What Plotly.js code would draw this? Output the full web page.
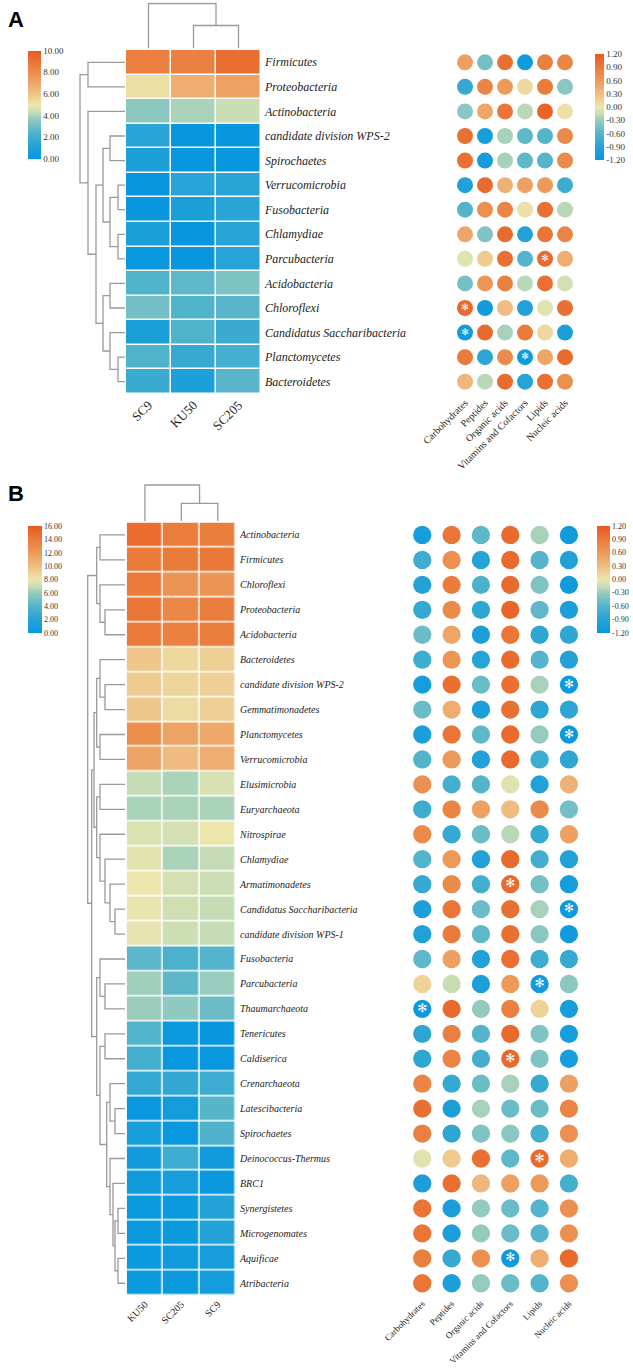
<!DOCTYPE html>
<html><head><meta charset="utf-8">
<script src="https://cdn.plot.ly/plotly-3.0.1.min.js"></script>
<style>html,body{margin:0;padding:0;background:#fff}#chart{width:633px;height:1369px}</style>
</head><body><div id="chart"></div>
<script>
// ---------------- DATA: Panel A ----------------
const samplesA = ['SC9', 'KU50', 'SC205'];
const phylaA = ['Firmicutes','Proteobacteria','Actinobacteria','candidate division WPS-2','Spirochaetes',
  'Verrucomicrobia','Fusobacteria','Chlamydiae','Parcubacteria','Acidobacteria','Chloroflexi',
  'Candidatus Saccharibacteria','Planctomycetes','Bacteroidetes'];
// log abundance per phylum (SC9, KU50, SC205)
const abundanceA = [
  [8.6, 8.5, 9.2],[5.2, 6.8, 7.2],[3.6, 4.0, 4.4],[1.3, 0.05, 0.05],[0.9, 0.05, 0.05],
  [0.05, 1.3, 1.35],[0.05, 0.8, 1.3],[0.8, 0.05, 1.3],[0.1, 0.05, 1.2],[2.4, 2.7, 3.3],
  [3.1, 2.4, 2.6],[0.8, 2.4, 1.8],[2.4, 1.7, 2.1],[1.8, 0.9, 2.6]
];
const functionsA = ['Carbohydrates','Peptides','Organic acids','Vitamins and Cofactors','Lipids','Nucleic acids'];
// correlation (Carb, Pept, Org, Vit, Lip, Nucl)
const corrA = [
  [0.55,-0.45,1.0,-1.1,0.85,0.8],
  [-0.8,0.8,0.6,0.1,0.9,-0.35],
  [-0.35,0.5,0.95,-0.2,1.1,0.05],
  [1.0,-1.05,-0.25,-0.55,-0.6,0.75],
  [1.0,-1.05,-0.25,-0.55,-0.6,0.75],
  [-0.95,1.05,0.4,0.55,0.6,-0.75],
  [-0.6,0.7,0.8,0.05,1.0,-0.2],
  [0.5,-0.4,1.05,-0.95,0.95,0.8],
  [-0.05,0.2,1.0,-0.6,1.05,0.45],
  [-0.45,0.65,0.85,-0.2,1.0,-0.1],
  [1.05,-1.1,0.3,-0.95,-0.05,1.0],
  [-1.1,1.05,-0.25,0.9,0.1,-1.0],
  [0.9,-0.85,0.75,-1.1,0.5,1.05],
  [0.35,-0.2,1.05,-0.9,1.0,0.7]
];
const signifA = [[8,4],[10,0],[11,0],[12,3]]; // [phylum, function]
// clustering trees: [left, right, distance]
const rowTreeA = [[0,1,3.7],[2,[[[3,4,1.5],[[5,6,0.7],[7,8,0.7],1.5],2.2],[[9,10,1.5],[11,[12,13,0.7],1.5],2.2],2.9],3.7],4.5];
const colTreeA = [0,[1,2,2.3],4.5];

// ---------------- DATA: Panel B ----------------
const samplesB = ['KU50', 'SC205', 'SC9'];
const phylaB = ['Actinobacteria','Firmicutes','Chloroflexi','Proteobacteria','Acidobacteria','Bacteroidetes',
  'candidate division WPS-2','Gemmatimonadetes','Planctomycetes','Verrucomicrobia','Elusimicrobia','Euryarchaeota',
  'Nitrospirae','Chlamydiae','Armatimonadetes','Candidatus Saccharibacteria','candidate division WPS-1',
  'Fusobacteria','Parcubacteria','Thaumarchaeota','Tenericutes','Caldiserica','Crenarchaeota','Latescibacteria',
  'Spirochaetes','Deinococcus-Thermus','BRC1','Synergistetes','Microgenomates','Aquificae','Atribacteria'];
const abundanceB = [
  [14.9,13.9,13.8],[14.0,14.0,14.1],[14.0,12.4,12.4],[14.3,13.2,13.8],[14.0,13.6,13.8],
  [9.6,8.7,9.1],[9.3,8.9,9.1],[9.5,8.5,9.1],[12.8,11.5,11.2],[11.5,10.1,10.9],
  [6.9,6.4,7.4],[6.4,6.4,6.4],[7.5,7.3,8.0],[7.7,6.4,6.9],[8.0,7.3,7.1],
  [7.9,7.2,6.9],[7.8,7.1,6.9],[4.2,3.6,4.0],[6.2,4.3,6.1],[6.1,5.8,4.7],
  [4.0,0.3,0.05],[3.4,0.1,0.1],[2.6,2.5,3.0],[0.1,0.8,4.1],[1.1,0.1,3.8],
  [0.7,3.0,0.7],[0.7,1.0,0.2],[0.3,0.3,1.8],[0.3,0.3,1.8],[0.3,0.7,1.0],[0.3,0.3,0.8]
];
const functionsB = ['Carbohydrates','Peptides','Organic acids','Vitamins and Cofactors','Lipids','Nucleic acids'];
const corrB = [
  [-1.05,0.95,-0.55,1.05,-0.25,-1.1],
  [-0.75,0.7,-0.9,1.05,-0.6,-0.95],
  [-0.95,0.9,-0.65,1.05,-0.4,-1.1],
  [-0.8,0.75,-0.85,1.1,-0.55,-1.0],
  [-0.5,0.5,-1.0,0.95,-0.85,-0.85],
  [-0.75,0.65,-0.9,1.05,-0.6,-0.95],
  [-1.05,1.0,-0.5,1.0,-0.25,-1.15],
  [-0.5,0.45,-1.0,1.0,-0.85,-0.85],
  [-1.0,0.95,-0.55,1.05,-0.3,-1.15],
  [-0.6,0.6,-0.95,1.05,-0.75,-0.85],
  [0.7,-0.7,-0.6,-0.05,-0.95,0.4],
  [-0.75,0.8,0.55,0.3,0.75,-0.45],
  [0.75,-0.8,-0.5,-0.2,-0.8,0.55],
  [-0.6,0.6,-0.95,1.05,-0.7,-0.95],
  [-0.8,0.75,-0.7,1.05,-0.45,-1.05],
  [-1.0,0.95,-0.5,1.0,-0.25,-1.15],
  [-0.95,0.9,-0.55,1.0,-0.35,-1.1],
  [-0.55,0.55,-0.95,1.0,-0.75,-0.8],
  [0.15,-0.15,-1.0,0.6,-1.1,-0.35],
  [-1.15,1.05,-0.3,0.85,0.15,-1.05],
  [-0.85,0.85,-0.6,1.05,-0.4,-1.05],
  [-0.85,0.8,-0.7,1.05,-0.4,-1.05],
  [0.8,-0.8,-0.5,-0.25,-0.8,0.55],
  [1.0,-1.0,-0.25,-0.5,-0.5,0.8],
  [0.85,-0.85,-0.4,-0.35,-0.7,0.7],
  [-0.05,0.2,1.0,-0.55,1.05,0.45],
  [-1.0,1.0,0.35,0.55,0.6,-0.7],
  [0.95,-1.0,-0.3,-0.5,-0.6,0.7],
  [0.95,-1.0,-0.3,-0.5,-0.6,0.7],
  [0.85,-0.8,0.7,-1.15,0.45,1.05],
  [0.95,-1.0,-0.3,-0.5,-0.6,0.7]
];
const signifB = [[6,5],[8,5],[14,3],[15,5],[18,4],[19,0],[21,3],[25,4],[29,3]];
const C1 = [[0,1,2.5],[2,[3,4,2.0],2.5],2.83];
const C2 = [[5,[6,7,2.0],2.5],[8,9,2.5],2.83];
const C3 = [[10,11,2.5],[12,[13,[14,[15,16,1.0],1.5],2.0],2.5],2.83];
const C5 = [[22,[23,24,1.0],1.5],[25,[26,[[27,28,0.7],[29,30,0.7],1.0],1.2],1.5],1.83];
const C4 = [[17,[18,19,2.0],2.5],[[20,21,2.0],C5,2.5],2.83];
const rowTreeB = [C1,[[C2,C3,3.1],C4,3.33],3.73];
const colTreeB = [0,[1,2,1.77],3.6];

// ---------------- STYLE ----------------
const W = 633, H = 1369;
const px = v => v / W;
const py = v => 1 - v / H;
const SERIF = 'Liberation Serif, Times New Roman, serif';
const cscale = [
  [0, '#0797df'], [0.125, '#26a3d6'], [0.25, '#54b4cb'], [0.375, '#95cbbe'],
  [0.43, '#c5dcb6'], [0.5, '#ece6ad'], [0.625, '#efbd82'], [0.75, '#ec9a5a'],
  [0.875, '#ea7b3b'], [1, '#e8591f']
];
const DCOL = '#9a9a9a';

function dendro(tree) {
  const pos = [], h = [];
  function walk(n) {
    if (typeof n === 'number') return { p: n, h: 0 };
    const L = walk(n[0]), R = walk(n[1]);
    pos.push(L.p, L.p, R.p, R.p, null);
    h.push(L.h, n[2], n[2], R.h, null);
    return { p: (L.p + R.p) / 2, h: n[2] };
  }
  walk(tree);
  return { pos, h };
}
function flatDots(vals) {
  const x = [], y = [], c = [];
  vals.forEach((row, i) => row.forEach((v, j) => { x.push(j); y.push(i); c.push(v); }));
  return { x, y, c };
}
const fmt = v => v.toFixed(2);
const range = n => Array.from({ length: n }, (_, i) => i);

const dA = flatDots(corrA), dB = flatDots(corrB);
const rA = dendro(rowTreeA), cA = dendro(colTreeA);
const rB = dendro(rowTreeB), cB = dendro(colTreeB);

const corrTicks = [-1.2,-0.9,-0.6,-0.3,0,0.3,0.6,0.9,1.2];
const aTicks = [0,2,4,6,8,10];
const bTicks = [0,2,4,6,8,10,12,14,16];

function cbar(x, top, len, thick, ticks, size) {
  return { x: px(x), xanchor: 'left', y: py(top), yanchor: 'top', len: len, lenmode: 'pixels',
    thickness: thick, thicknessmode: 'pixels', xpad: 0, ypad: 0, outlinewidth: 0, ticks: '',
    tickvals: ticks, ticktext: ticks.map(fmt), tickfont: { family: SERIF, size: size, color: '#333333' } };
}

const traces = [
  // Panel A heatmap
  { type: 'heatmap', z: abundanceA, x: range(3), y: range(14), xaxis: 'x', yaxis: 'y',
    colorscale: cscale, zmin: 0, zmax: 10, xgap: 1.5, ygap: 1.5, hoverinfo: 'z',
    colorbar: cbar(28, 50.7, 108, 13, aTicks, 9) },
  // A row dendrogram
  { type: 'scatter', mode: 'lines', x: rA.h, y: rA.pos, xaxis: 'x3', yaxis: 'y',
    line: { color: DCOL, width: 1.3 }, hoverinfo: 'skip', showlegend: false },
  // A column dendrogram
  { type: 'scatter', mode: 'lines', x: cA.pos, y: cA.h, xaxis: 'x', yaxis: 'y2',
    line: { color: DCOL, width: 1.3 }, hoverinfo: 'skip', showlegend: false },
  // A dots
  { type: 'scatter', mode: 'markers', x: dA.x, y: dA.y, xaxis: 'x2', yaxis: 'y',
    marker: { size: 16, color: dA.c, colorscale: cscale, cmin: -1.2, cmax: 1.2, line: { width: 0 },
      colorbar: cbar(595, 54, 106, 9, corrTicks, 9) }, showlegend: false },
  { type: 'scatter', mode: 'text', x: signifA.map(s => s[1]), y: signifA.map(s => s[0]), xaxis: 'x2', yaxis: 'y',
    text: signifA.map(() => '✻'), textfont: { family: 'DejaVu Sans', size: 9, color: '#ffffff' },
    hoverinfo: 'skip', showlegend: false },

  // Panel B heatmap
  { type: 'heatmap', z: abundanceB, x: range(3), y: range(31), xaxis: 'x4', yaxis: 'y3',
    colorscale: cscale, zmin: 0, zmax: 16, xgap: 1.5, ygap: 1.5, hoverinfo: 'z',
    colorbar: cbar(28.3, 526, 106.7, 13.7, bTicks, 8) },
  { type: 'scatter', mode: 'lines', x: rB.h, y: rB.pos, xaxis: 'x6', yaxis: 'y3',
    line: { color: DCOL, width: 1.3 }, hoverinfo: 'skip', showlegend: false },
  { type: 'scatter', mode: 'lines', x: cB.pos, y: cB.h, xaxis: 'x4', yaxis: 'y4',
    line: { color: DCOL, width: 1.3 }, hoverinfo: 'skip', showlegend: false },
  { type: 'scatter', mode: 'markers', x: dB.x, y: dB.y, xaxis: 'x5', yaxis: 'y3',
    marker: { size: 18.3, color: dB.c, colorscale: cscale, cmin: -1.2, cmax: 1.2, line: { width: 0 },
      colorbar: cbar(596.7, 525.7, 106.6, 13.3, corrTicks, 8) }, showlegend: false },
  { type: 'scatter', mode: 'text', x: signifB.map(s => s[1]), y: signifB.map(s => s[0]), xaxis: 'x5', yaxis: 'y3',
    text: signifB.map(() => '✻'), textfont: { family: 'DejaVu Sans', size: 12, color: '#ffffff' },
    hoverinfo: 'skip', showlegend: false }
];

const hidden = { visible: false, showgrid: false, zeroline: false, fixedrange: true };
const baseTick = { showgrid: false, zeroline: false, showline: false, ticks: '', automargin: false, fixedrange: true };

const layout = {
  width: W, height: H, margin: { l: 0, r: 0, t: 0, b: 0 },
  paper_bgcolor: '#ffffff', plot_bgcolor: 'rgba(0,0,0,0)', showlegend: false,
  xaxis: Object.assign({}, baseTick, { domain: [px(126), px(261)], range: [-0.5, 2.5], anchor: 'y',
    tickvals: range(3), ticktext: samplesA, tickangle: -45, tickfont: { family: SERIF, size: 13, color: '#222' } }),
  yaxis: Object.assign({}, baseTick, { domain: [py(394), py(50)], range: [13.5, -0.5], anchor: 'x', side: 'right',
    tickvals: range(14), ticktext: phylaA.map(p => '<i>' + p + '</i>'), ticklabelstandoff: 3,
    tickfont: { family: SERIF, size: 12, color: '#222' } }),
  xaxis2: Object.assign({}, baseTick, { domain: [px(455), px(575)], range: [-0.5, 5.5], anchor: 'y',
    tickvals: range(6), ticktext: functionsA, tickangle: -45, tickfont: { family: SERIF, size: 10, color: '#222' } }),
  xaxis3: Object.assign({}, hidden, { domain: [px(78), px(125)], range: [4.7, 0], anchor: 'y' }),
  yaxis2: Object.assign({}, hidden, { domain: [py(48.5), py(2.5)], range: [0, 4.6], anchor: 'x' }),

  xaxis4: Object.assign({}, baseTick, { domain: [px(126.7), px(236)], range: [-0.5, 2.5], anchor: 'y3',
    tickvals: range(3), ticktext: samplesB, tickangle: -45, tickfont: { family: SERIF, size: 10, color: '#222' } }),
  yaxis3: Object.assign({}, baseTick, { domain: [py(1295.7), py(522.5)], range: [30.5, -0.5], anchor: 'x4', side: 'right',
    tickvals: range(31), ticktext: phylaB.map(p => '<i>' + p + '</i>'), ticklabelstandoff: 3,
    tickfont: { family: SERIF, size: 10, color: '#222' } }),
  xaxis5: Object.assign({}, baseTick, { domain: [px(407.6), px(583.6)], range: [-0.5, 5.5], anchor: 'y3',
    tickvals: range(6), ticktext: functionsB, tickangle: -45, tickfont: { family: SERIF, size: 9, color: '#222' } }),
  xaxis6: Object.assign({}, hidden, { domain: [px(80), px(125)], range: [4.5, 0], anchor: 'y3' }),
  yaxis4: Object.assign({}, hidden, { domain: [py(521), py(484)], range: [0, 3.7], anchor: 'x4' }),

  annotations: [
    { text: '<b>A</b>', xref: 'paper', yref: 'paper', x: px(6), y: py(5), xanchor: 'left', yanchor: 'top',
      showarrow: false, font: { family: 'Liberation Sans, Arial, sans-serif', size: 22, color: '#000' } },
    { text: '<b>B</b>', xref: 'paper', yref: 'paper', x: px(6), y: py(479), xanchor: 'left', yanchor: 'top',
      showarrow: false, font: { family: 'Liberation Sans, Arial, sans-serif', size: 22, color: '#000' } }
  ]
};

Plotly.newPlot('chart', traces, layout, { displayModeBar: false, staticPlot: true });
</script>
</body></html>
